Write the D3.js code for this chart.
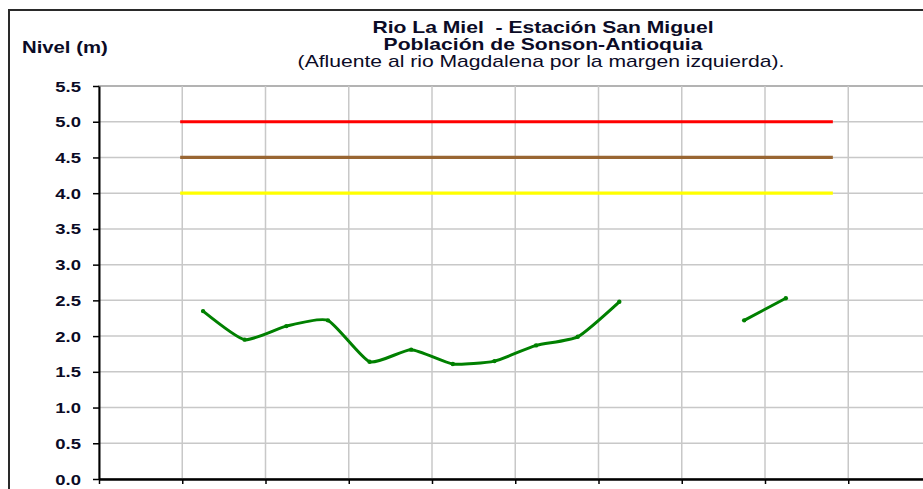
<!DOCTYPE html>
<html>
<head>
<meta charset="utf-8">
<script src="https://cdn.jsdelivr.net/npm/d3@7"></script>
<style>
  html, body { margin: 0; padding: 0; background: #fff; overflow: hidden; }
  svg { display: block; }
  text { font-family: "Liberation Sans", Arial, sans-serif; fill: #0b0b26; white-space: pre; }
</style>
</head>
<body>
<svg id="chart" width="923" height="489"></svg>
<script>
// ---- data ----
const titulo = [
  "Rio La Miel  - Estación San Miguel",
  "Población de Sonson-Antioquia",
  "(Afluente al rio Magdalena por la margen izquierda)."
];
const ejeYTitulo = "Nivel (m)";
// readings every half-day slot (slot index on x axis)
const slots = [2.5, 3.5, 4.5, 5.5, 6.5, 7.5, 8.5, 9.5, 10.5, 11.5, 12.5, 13.5, 14.5, 15.5, 16.5];
const niveles = [2.35, 1.95, 2.14, 2.22, 1.64, 1.81, 1.61, 1.65, 1.87, 1.99, 2.48, null, null, 2.22, 2.53];
// alert thresholds
const umbralNombres = ["Alerta roja", "Alerta naranja", "Alerta amarilla"];
const umbralValores = [5.0, 4.5, 4.0];
const umbralColores = ["#ff0000", "#996633", "#ffff00"];
const umbralRango = [1.95, 17.63];
const yTicks = [0, 0.5, 1.0, 1.5, 2.0, 2.5, 3.0, 3.5, 4.0, 4.5, 5.0, 5.5];
const xGridSlots = [0, 2, 4, 6, 8, 10, 12, 14, 16, 18, 20];

// ---- layout ----
const svg = d3.select("#chart");
const S = 1.32; // horizontal text stretch of the reference
const plot = { left: 99, top: 86, bottom: 479, right: 931.5 };
const x = d3.scaleLinear().domain([0, 20]).range([plot.left, plot.right]);
const y = d3.scaleLinear().domain([0, 5.5]).range([plot.bottom, plot.top]);

function stretchedText(g, tx, ty, str, opts) {
  return g.append("text")
    .attr("xml:space", "preserve")
    .attr("transform", `translate(${tx},${ty}) scale(${opts.s || S},1)`)
    .attr("text-anchor", opts.anchor || "start")
    .style("font-size", (opts.size || 16) + "px")
    .style("font-weight", opts.weight || "bold")
    .text(str);
}

// outer chart border
svg.append("rect").attr("x", 9).attr("y", 10).attr("width", 940).attr("height", 500)
  .attr("fill", "#fff").attr("stroke", "#2a2a2a").attr("stroke-width", 2);

// plot area
svg.append("rect").attr("x", plot.left).attr("y", plot.top)
  .attr("width", plot.right - plot.left).attr("height", plot.bottom - plot.top)
  .attr("fill", "#fff").attr("stroke", "#9a9a9a").attr("stroke-width", 1.5);

// grid
const grid = svg.append("g");
grid.selectAll("line.h").data(yTicks.filter(d => d > 0 && d < 5.5)).enter().append("line")
  .attr("x1", plot.left).attr("x2", plot.right)
  .attr("y1", d => y(d)).attr("y2", d => y(d))
  .attr("stroke", "#c8c8c8").attr("stroke-width", 1.5);
grid.selectAll("line.v").data(xGridSlots.filter(d => d > 0)).enter().append("line")
  .attr("x1", d => x(d)).attr("x2", d => x(d))
  .attr("y1", plot.top).attr("y2", plot.bottom)
  .attr("stroke", "#c8c8c8").attr("stroke-width", 1.5);

// thresholds
umbralValores.forEach((v, i) => {
  svg.append("line")
    .attr("class", "umbral").attr("data-name", umbralNombres[i])
    .attr("x1", x(umbralRango[0])).attr("x2", x(umbralRango[1]))
    .attr("y1", y(v)).attr("y2", y(v))
    .attr("stroke", umbralColores[i]).attr("stroke-width", 3.2);
});

// level series
const datos = slots.map((s, i) => ({ s, v: niveles[i] }));
const linea = d3.line()
  .defined(d => d.v !== null)
  .x(d => x(d.s)).y(d => y(d.v))
  .curve(d3.curveCardinal.tension(0.45));
svg.append("path").datum(datos)
  .attr("d", linea).attr("fill", "none")
  .attr("stroke", "#008000").attr("stroke-width", 3)
  .attr("stroke-linejoin", "round").attr("stroke-linecap", "round");
svg.selectAll("circle.pt").data(datos.filter(d => d.v !== null)).enter().append("circle")
  .attr("cx", d => x(d.s)).attr("cy", d => y(d.v)).attr("r", 2.2)
  .attr("fill", "#008000");

// axes
const yAxis = d3.axisLeft(y).tickValues(yTicks).tickFormat(d3.format(".1f")).tickSize(6).tickSizeOuter(0);
const gy = svg.append("g").attr("transform", `translate(${plot.left},0)`).call(yAxis);
gy.select(".domain").attr("stroke", "#000").attr("stroke-width", 2);
gy.selectAll(".tick line").attr("stroke", "#000").attr("stroke-width", 1.5);
gy.selectAll(".tick text")
  .attr("x", -18 / S).attr("dy", "0.36em")
  .attr("transform", `scale(${S},1)`)
  .style("font-size", "14px").style("font-weight", "bold")
  .style("font-family", '"Liberation Sans", Arial, sans-serif')
  .attr("fill", "#0b0b26");

const xAxis = d3.axisBottom(x).tickValues(xGridSlots).tickFormat("").tickSize(5).tickSizeOuter(0);
const gx = svg.append("g").attr("transform", `translate(0,${plot.bottom})`).call(xAxis);
gx.select(".domain").attr("stroke", "#000").attr("stroke-width", 2.5);
gx.selectAll(".tick line").attr("stroke", "#000").attr("stroke-width", 1.5);

// titles
stretchedText(svg, 543, 33, titulo[0], { anchor: "middle" });
stretchedText(svg, 543, 50, titulo[1], { anchor: "middle" });
stretchedText(svg, 541, 67, titulo[2], { anchor: "middle", weight: "normal" });
stretchedText(svg, 22, 53, ejeYTitulo, { s: 1.27 });
</script>
</body>
</html>
